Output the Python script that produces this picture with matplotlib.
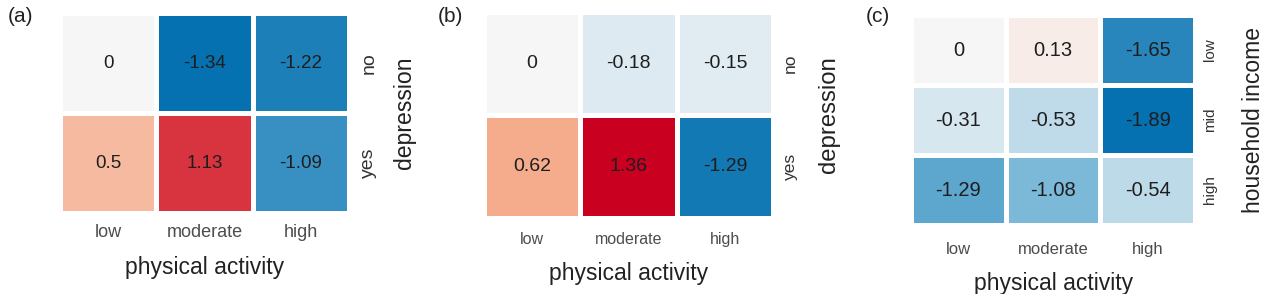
import numpy as np
import matplotlib
matplotlib.use('Agg')
import matplotlib.pyplot as plt
from matplotlib.colors import LinearSegmentedColormap, TwoSlopeNorm

plt.rcParams['font.family'] = ['Liberation Sans', 'DejaVu Sans']

activity = ['low', 'moderate', 'high']
depression = ['no', 'yes']
income = ['low', 'mid', 'high']

vals_a = [[0, -1.34, -1.22],
          [0.5, 1.13, -1.09]]
vals_b = [[0, -0.18, -0.15],
          [0.62, 1.36, -1.29]]
vals_c = [[0, 0.13, -1.65],
          [-0.31, -0.53, -1.89],
          [-1.29, -1.08, -0.54]]

cmap = LinearSegmentedColormap.from_list(
    'rdbu5', ['#0571b0', '#92c5de', '#f7f7f7', '#f4a582', '#ca0020'])

# tag, values, row labels, y title, axes rect, cell font, xtick font, row font,
# xtick pad, row pad, xlabel y, ylabel x, ylabel size
panels = [
    ('(a)', vals_a, depression, 'depression', [0.0473, 0.2755, 0.228, 0.680],
     13.5, 13, 14, 8, 8, -0.215, 1.152, 16.6),
    ('(b)', vals_b, depression, 'depression', [0.3817, 0.2585, 0.228, 0.7007],
     14, 11.5, 12.5, 10, 7, -0.214, 1.156, 17.2),
    ('(c)', vals_c, income, 'household income', [0.7185, 0.2347, 0.224, 0.714],
     14.5, 12, 11, 12, 6, -0.224, 1.166, 16.5),
]
tag_x = [8, 438, 866]

fig = plt.figure(figsize=(12.68, 2.94), dpi=100)

for k, (tag, vals, rows, ylab, pos, cellsize, ticksize, rowsize,
        xpad, ypad, xly, ylx, ylsize) in enumerate(panels):
    arr = np.array(vals, dtype=float)
    lim = np.abs(arr).max()
    norm = TwoSlopeNorm(vcenter=0, vmin=-lim, vmax=lim)
    ax = fig.add_axes(pos)
    ax.pcolormesh(arr, cmap=cmap, norm=norm, edgecolors='white', linewidth=2.2)
    ax.set_xlim(0, arr.shape[1])
    ax.set_ylim(arr.shape[0], 0)
    for i in range(arr.shape[0]):
        for j in range(arr.shape[1]):
            ax.text(j + 0.5, i + 0.5, f'{arr[i, j]:g}', ha='center', va='center',
                    fontsize=cellsize, color='#1e1e1e')
    ax.set_xticks(np.arange(arr.shape[1]) + 0.5)
    ax.set_xticklabels(activity, fontsize=ticksize, color='#4d4d4d')
    ax.set_yticks(np.arange(arr.shape[0]) + 0.5)
    ax.set_yticklabels(rows, rotation=90, va='center', fontsize=rowsize, color='#333333')
    ax.yaxis.tick_right()
    ax.yaxis.set_label_position('right')
    ax.tick_params(axis='x', length=0, pad=xpad)
    ax.tick_params(axis='y', length=0, pad=ypad)
    ax.set_xlabel('physical activity', fontsize=16.5, color='#222222')
    ax.xaxis.set_label_coords(0.5, xly)
    ax.set_ylabel(ylab, fontsize=ylsize, color='#222222')
    ax.yaxis.set_label_coords(ylx, 0.5)
    for s in ax.spines.values():
        s.set_visible(False)
    fig.text(tag_x[k] / 1268, 1 - 17 / 294, tag, fontsize=15,
             color='#222222', va='center', ha='left')

fig.savefig('out.png', dpi=100)
